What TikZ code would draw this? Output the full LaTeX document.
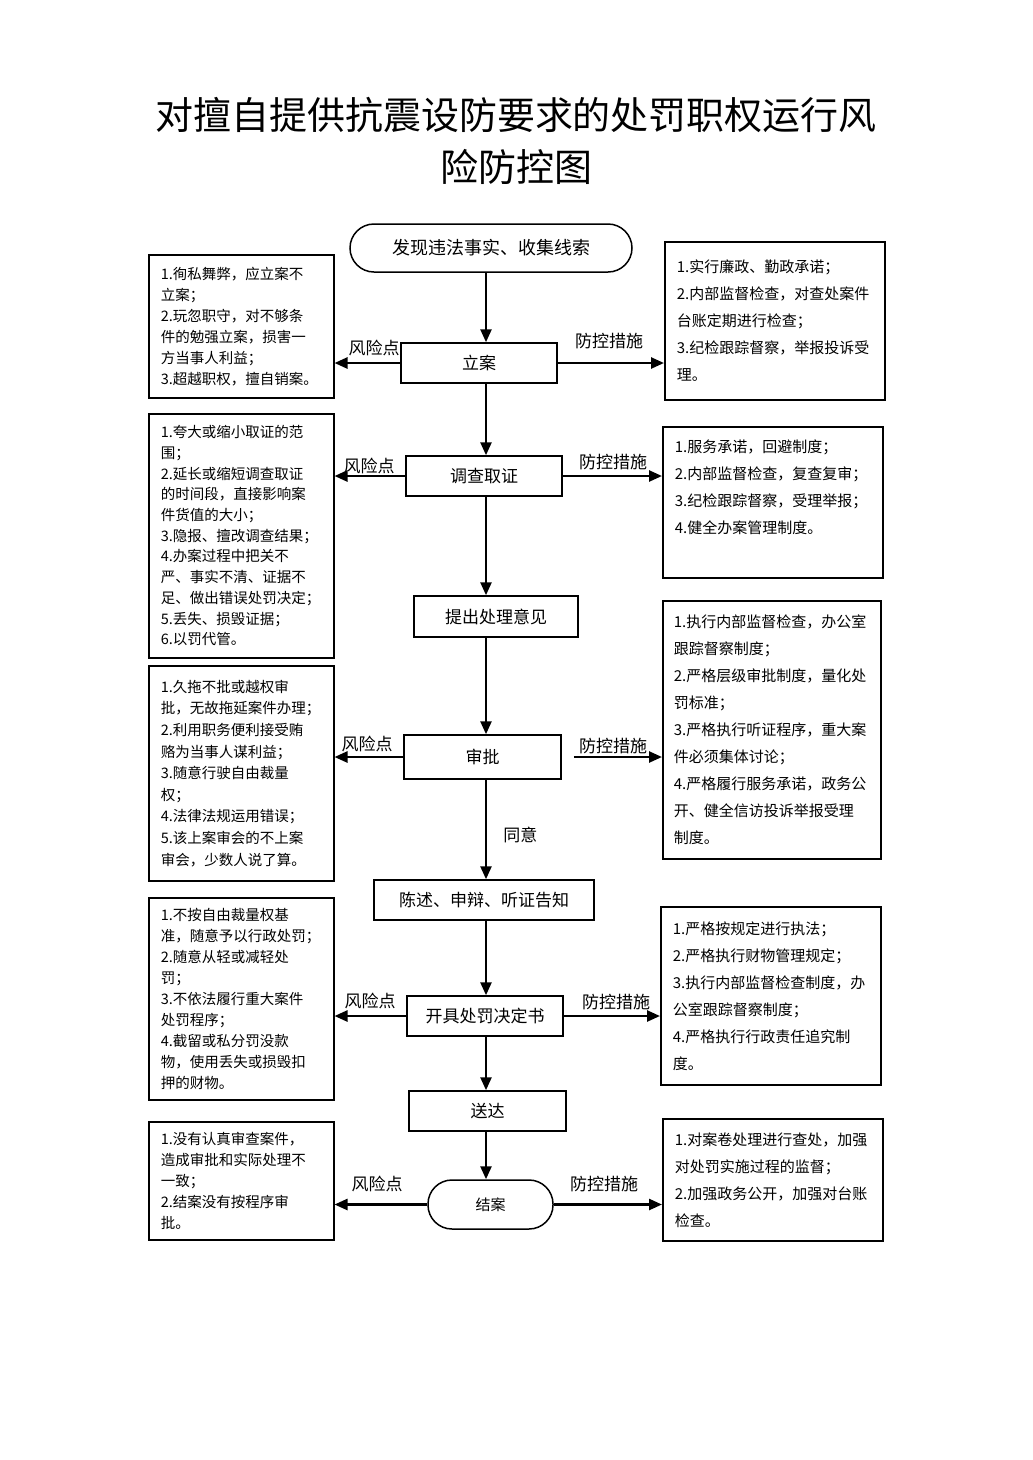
\documentclass[tikz,border=0pt]{standalone}
\usepackage{fontspec}
\setmainfont{Noto Sans CJK SC}
\usetikzlibrary{arrows.meta}
\newcommand\LBtext[3]{\parbox[c][#1pt][c]{161pt}{\raggedright\fontsize{14.5}{#2}\selectfont #3}}
\newcommand\RBtext[3]{\parbox[c][#1pt][#2]{196pt}{\raggedright\fontsize{15}{27}\selectfont #3}}
\begin{document}
\begin{tikzpicture}[x=1pt,y=-1pt,
  main/.style={draw, line width=1.5pt, font=\fontsize{17}{20}\selectfont, inner sep=0pt},
  stad/.style={main, rounded corners=24pt},
  tbox/.style={draw, line width=1.5pt, inner xsep=12pt, inner ysep=0pt, anchor=north west},
  arr/.style={line width=2.5pt, -{Triangle[length=13pt,width=11pt]}},
  lbl/.style={font=\fontsize{17}{20}\selectfont, inner sep=0pt}]
\useasboundingbox[fill=white] (0,0) rectangle (1033,1460);

% title
\node[font=\fontsize{38}{52}\selectfont, align=center, inner sep=0pt] (title) at (516,141)
  {对擅自提供抗震设防要求的处罚职权运行风\\险防控图};

\coordinate (spine) at (486,0);

% main flow
\node[stad, minimum width=282pt, minimum height=48pt, font=\fontsize{18}{20}\selectfont] (start) at (491,248) {发现违法事实、收集线索};
\node[main, minimum width=156pt, minimum height=40pt] (lian) at (479,363) {立案};
\node[main, minimum width=156pt, minimum height=40pt] (diaocha) at (484,476) {调查取证};
\node[main, minimum width=164pt, minimum height=41pt] (tichu) at (496,616.5) {提出处理意见};
\node[main, minimum width=157pt, minimum height=44pt] (shenpi) at (482.5,757) {审批};
\node[main, minimum width=220pt, minimum height=40pt] (chenshu) at (484,900) {陈述、申辩、听证告知};
\node[main, minimum width=156pt, minimum height=40pt] (kaiju) at (485,1016) {开具处罚决定书};
\node[main, minimum width=157pt, minimum height=40pt] (songda) at (487.5,1111) {送达};
\node[stad, minimum width=125pt, minimum height=49pt, font=\fontsize{15}{18}\selectfont] (jiean) at (490.5,1204.5) {结案};

\draw[arr] (start.south -| spine) -- (lian.north -| spine);
\draw[arr] (lian.south -| spine) -- (diaocha.north -| spine);
\draw[arr] (diaocha.south -| spine) -- (tichu.north -| spine);
\draw[arr] (tichu.south -| spine) -- (shenpi.north -| spine);
\draw[arr] (shenpi.south -| spine) -- node[lbl, right=16pt, pos=0.55] (ty) {同意} (chenshu.north -| spine);
\draw[arr] (chenshu.south -| spine) -- (kaiju.north -| spine);
\draw[arr] (kaiju.south -| spine) -- (songda.north -| spine);
\draw[arr] (songda.south -| spine) -- (jiean.north -| spine);

% left boxes
\node[tbox] (L1) at (148,254) {\LBtext{143}{21}{1.徇私舞弊，应立案不\\立案；\\2.玩忽职守，对不够条\\件的勉强立案，损害一\\方当事人利益；\\3.超越职权，擅自销案。}};
\node[tbox] (L2) at (148,413) {\LBtext{244}{20.7}{1.夸大或缩小取证的范\\围；\\2.延长或缩短调查取证\\的时间段，直接影响案\\件货值的大小；\\3.隐报、擅改调查结果；\\4.办案过程中把关不\\严、事实不清、证据不\\足、做出错误处罚决定；\\5.丢失、损毁证据；\\6.以罚代管。}};
\node[tbox] (L3) at (148,665) {\LBtext{215}{21.6}{1.久拖不批或越权审\\批，无故拖延案件办理；\\2.利用职务便利接受贿\\赂为当事人谋利益；\\3.随意行驶自由裁量\\权；\\4.法律法规运用错误；\\5.该上案审会的不上案\\审会，少数人说了算。}};
\node[tbox] (L4) at (148,897) {\LBtext{202}{21}{1.不按自由裁量权基\\准，随意予以行政处罚；\\2.随意从轻或减轻处\\罚；\\3.不依法履行重大案件\\处罚程序；\\4.截留或私分罚没款\\物，使用丢失或损毁扣\\押的财物。}};
\node[tbox] (L5) at (148,1121) {\LBtext{118}{21}{1.没有认真审查案件，\\造成审批和实际处理不\\一致；\\2.结案没有按程序审\\批。}};

% right boxes
\node[tbox] (R1) at (664,241) {\RBtext{158}{c}{1.实行廉政、勤政承诺；\\2.内部监督检查，对查处案件\\台账定期进行检查；\\3.纪检跟踪督察，举报投诉受\\理。}};
\node[tbox] (R2) at (662,426) {\RBtext{151}{t}{\vspace*{13pt}1.服务承诺，回避制度；\\2.内部监督检查，复查复审；\\3.纪检跟踪督察，受理举报；\\4.健全办案管理制度。}};
\node[tbox, inner xsep=11pt] (R3) at (662,600) {\RBtext{258}{c}{1.执行内部监督检查，办公室\\跟踪督察制度；\\2.严格层级审批制度，量化处\\罚标准；\\3.严格执行听证程序，重大案\\件必须集体讨论；\\4.严格履行服务承诺，政务公\\开、健全信访投诉举报受理\\制度。}};
\node[tbox] (R4) at (660,906) {\RBtext{178}{c}{1.严格按规定进行执法；\\2.严格执行财物管理规定；\\3.执行内部监督检查制度，办\\公室跟踪督察制度；\\4.严格执行行政责任追究制\\度。}};
\node[tbox] (R5) at (662,1118) {\RBtext{122}{c}{1.对案卷处理进行查处，加强\\对处罚实施过程的监督；\\2.加强政务公开，加强对台账\\检查。}};

% side arrows
\draw[arr] (lian.west) -- (lian.west -| L1.east);
\draw[arr] (lian.east) -- (lian.east -| R1.west);
\draw[arr] (diaocha.west) -- (diaocha.west -| L2.east);
\draw[arr] (diaocha.east) -- (diaocha.east -| R2.west);
\draw[arr] (shenpi.west) -- (shenpi.west -| L3.east);
\draw[arr, shorten <=12pt] (shenpi.east) -- (shenpi.east -| R3.west);
\draw[arr] (kaiju.west) -- (kaiju.west -| L4.east);
\draw[arr] (kaiju.east) -- (kaiju.east -| R4.west);
\draw[arr] (jiean.west) -- (jiean.west -| L5.east);
\draw[arr] (jiean.east) -- (jiean.east -| R5.west);

% side labels
\node[lbl] (f1) at (374,348) {风险点};
\node[lbl] (p1) at (609,341) {防控措施};
\node[lbl] (f2) at (369,466) {风险点};
\node[lbl] (p2) at (613,462) {防控措施};
\node[lbl] (f3) at (367,744) {风险点};
\node[lbl] (p3) at (613,746) {防控措施};
\node[lbl] (f4) at (370,1001) {风险点};
\node[lbl] (p4) at (616,1002) {防控措施};
\node[lbl] (f5) at (377,1184) {风险点};
\node[lbl] (p5) at (604,1184) {防控措施};
\end{tikzpicture}
\end{document}
